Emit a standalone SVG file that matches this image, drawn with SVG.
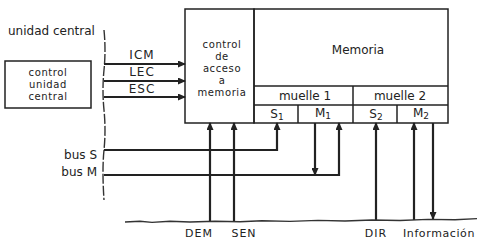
<svg xmlns="http://www.w3.org/2000/svg" width="487" height="241" viewBox="0 0 487 241">
  <defs>
    <marker id="arrow" viewBox="0 0 8 7" refX="7" refY="3.5" markerWidth="8" markerHeight="7" markerUnits="userSpaceOnUse" orient="auto">
      <path d="M0,0 L8,3.5 L0,7 z" fill="#222"/>
    </marker>
    <style>
      .txt { font-family: "DejaVu Sans", "Liberation Sans", sans-serif; font-size: 12px; fill: #222; }
      .sm { font-size: 11px; }
      .xs { font-size: 10px; letter-spacing: 0.6px; }
      .mid { text-anchor: middle; }
      .end { text-anchor: end; }
      .sp { letter-spacing: 1px; }
      .box { fill: none; stroke: #222; stroke-width: 1.5; }
      .arr { fill: none; stroke: #222; stroke-width: 2.2; marker-end: url(#arrow); }
      .edge { fill: none; stroke: #333; stroke-width: 1.4; }
    </style>
  </defs>

  <rect width="487" height="241" fill="#fff"/>

  <!-- boundary of the central unit -->
  <g id="unidad-central">
    <text class="txt" x="8" y="35">unidad central</text>
    <path class="edge" stroke-dasharray="10 2" d="M104,30 Q106,50 104,70 Q102,90 104,110 Q106,130 104,150 Q102,170 104,200"/>
  </g>

  <!-- control unit -->
  <g id="control-unidad-central">
    <rect class="box" x="5" y="61" width="86" height="47"/>
    <text class="txt xs mid" x="48" y="76">control</text>
    <text class="txt xs mid" x="48" y="88">unidad</text>
    <text class="txt xs mid" x="48" y="100">central</text>
  </g>

  <!-- memory access control -->
  <g id="control-acceso">
    <rect class="box" x="185" y="9" width="69" height="114"/>
    <text class="txt xs mid" x="222" y="48">control</text>
    <text class="txt xs mid" x="222" y="60">de</text>
    <text class="txt xs mid" x="222" y="72">acceso</text>
    <text class="txt xs mid" x="222" y="84">a</text>
    <text class="txt xs mid" x="222" y="96">memoria</text>
  </g>

  <!-- memory with its two banks -->
  <g id="memoria">
    <rect class="box" x="254" y="9" width="194" height="114"/>
    <text class="txt mid" x="358" y="54">Memoria</text>
    <line class="box" x1="254" y1="86" x2="448" y2="86"/>
    <line class="box" x1="254" y1="105" x2="448" y2="105"/>
    <line class="box" x1="353" y1="86" x2="353" y2="123"/>
  </g>

  <g id="muelle-1">
    <text class="txt mid" x="305" y="100">muelle 1</text>
    <line class="box" x1="298" y1="105" x2="298" y2="123"/>
    <text class="txt mid" x="277" y="118">S<tspan font-size="9" dy="2">1</tspan></text>
    <text class="txt mid" x="323" y="117">M<tspan font-size="9" dy="2">1</tspan></text>
  </g>

  <g id="muelle-2">
    <text class="txt mid" x="400" y="100">muelle 2</text>
    <line class="box" x1="397" y1="105" x2="397" y2="123"/>
    <text class="txt mid" x="376" y="118">S<tspan font-size="9" dy="2">2</tspan></text>
    <text class="txt mid" x="421" y="117">M<tspan font-size="9" dy="2">2</tspan></text>
  </g>

  <!-- signal and bus labels -->
  <g id="labels">
    <text class="txt mid sp" x="142" y="59">ICM</text>
    <text class="txt mid sp" x="142" y="76">LEC</text>
    <text class="txt mid sp" x="142" y="93">ESC</text>
    <text class="txt end" x="97" y="159">bus S</text>
    <text class="txt end" x="97" y="176">bus M</text>
    <text class="txt sm mid sp" x="199" y="237">DEM</text>
    <text class="txt sm mid sp" x="244" y="237">SEN</text>
    <text class="txt sm mid sp" x="376" y="237">DIR</text>
    <text class="txt sm mid" x="439" y="237" letter-spacing="0.6">Información</text>
  </g>

  <!-- connectors -->
  <g id="connectors">
    <line class="arr" x1="104" y1="64" x2="185" y2="64"/>
    <line class="arr" x1="104" y1="81" x2="185" y2="81"/>
    <line class="arr" x1="104" y1="97" x2="185" y2="97"/>

    <polyline class="arr" points="104,150 277,150 277,123"/>
    <polyline class="arr" points="104,175 339,175 339,123"/>
    <line class="arr" x1="315" y1="123" x2="315" y2="175"/>

    <line class="arr" x1="210" y1="221" x2="210" y2="123"/>
    <line class="arr" x1="234" y1="221" x2="234" y2="123"/>
    <line class="arr" x1="376" y1="220" x2="376" y2="123"/>
    <line class="arr" x1="414" y1="220" x2="414" y2="123"/>
    <line class="arr" x1="433" y1="123" x2="433" y2="219"/>

    <!-- lower wavy border -->
    <path class="edge" stroke-width="1.1" d="M125,222 L140,221.2 L152,222.4 L170,221.3 L190,222 L215,221.2 L240,221.8 L262,220.8 L290,221.4 L318,220.4 L345,221 L372,220 L400,220.5 L428,219.4 L455,219.8 L477,218.6"/>
  </g>
</svg>
